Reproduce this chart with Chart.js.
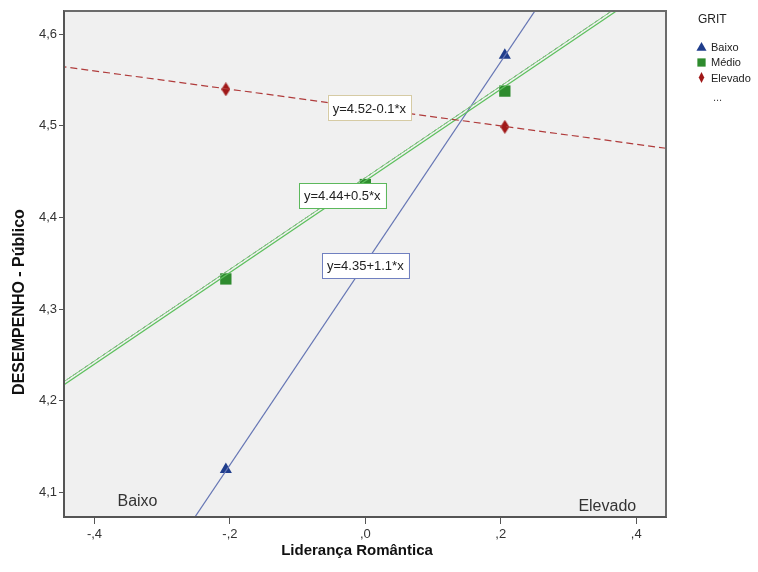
<!DOCTYPE html>
<html>
<head>
<meta charset="utf-8">
<script src="https://cdn.jsdelivr.net/npm/chart.js@4.4.1/dist/chart.umd.min.js"></script>
<style>
  html, body { margin: 0; padding: 0; background: #fff; }
  #wrap { position: relative; width: 758px; height: 572px; }
  #legend { position: absolute; left: 696px; top: 12px; font-family: "Liberation Sans", Arial, sans-serif; color: #222; }
  #legend .ttl { font-size: 12px; margin-left: 2px; margin-bottom: 13px; }
  #legend .item { font-size: 11px; height: 15.5px; display: flex; align-items: center; }
  #legend .item svg { width: 11px; height: 11px; margin-right: 4px; }
  #legend .more { font-size: 11px; margin-left: 17px; margin-top: 5px; color: #444; }
</style>
</head>
<body>
<div id="wrap">
  <canvas id="c" width="758" height="572"></canvas>
  <div id="legend">
    <div class="ttl">GRIT</div>
    <div class="item"><svg viewBox="0 0 12 12"><polygon points="6,1 11.5,10.5 0.5,10.5" fill="#1f3d8c"/></svg>Baixo</div>
    <div class="item"><svg viewBox="0 0 12 12"><rect x="1.5" y="1.5" width="9" height="9" fill="#2e8b2e"/></svg>Médio</div>
    <div class="item"><svg viewBox="0 0 12 12"><polygon points="6,0 9,6 6,12 3,6" fill="#a01818"/></svg>Elevado</div>
    <div class="more">...</div>
  </div>
</div>
<script>
// ---- data ----
const groups = ['Baixo', 'Médio', 'Elevado'];
const xLevels = [-0.206, 0, 0.206];
const baixoMeans = [4.125, 4.350, 4.577];
const medioMeans = [4.333, 4.436, 4.538];
const elevadoMeans = [4.540, 4.520, 4.499];
const lineX = [-0.5, 0.5];
const baixoFit = [3.800, 4.900];
const medioFit = [4.190, 4.690];
const medioFitDash = [4.1935, 4.6935];
const elevadoFit = [4.570, 4.470];
const equations = ['y=4.52-0.1*x', 'y=4.44+0.5*x', 'y=4.35+1.1*x'];
const xTicks = [-0.4, -0.2, 0, 0.2, 0.4];
const yTicks = [4.1, 4.2, 4.3, 4.4, 4.5, 4.6];
const cornerLabels = ['Baixo', 'Elevado'];
const xTitle = 'Liderança Romântica';
const yTitle = 'DESEMPENHO - Público';

const pts = (xs, ys) => xs.map((x, i) => ({x: x, y: ys[i]}));

// narrow diamond marker
const dia = document.createElement('canvas');
dia.width = 9; dia.height = 14;
(function(){ const g = dia.getContext('2d'); g.fillStyle = '#a01818'; g.beginPath();
  g.moveTo(4.5,0); g.lineTo(9,7); g.lineTo(4.5,14); g.lineTo(0,7); g.closePath(); g.fill(); })();

const FONT = '"Liberation Sans", Arial, sans-serif';

const decor = {
  id: 'decor',
  beforeDraw(chart) {
    const {ctx, chartArea: a} = chart;
    ctx.save();
    ctx.fillStyle = '#f0f0f0';
    ctx.fillRect(a.left, a.top, a.right - a.left, a.bottom - a.top);
    ctx.restore();
  },
  afterDatasetsDraw(chart) {
    const {ctx, chartArea: a, scales} = chart;
    const xs = scales.x, ys = scales.y;
    ctx.save();
    // equation boxes
    const boxes = [
      {t: equations[0], x: 0.006, y: 4.5196, c: '#d6cba4'},
      {t: equations[1], x: -0.034, y: 4.4236, c: '#5cb85c'},
      {t: equations[2], x: 0.0, y: 4.3473, c: '#7080c0'}
    ];
    ctx.font = '13px ' + FONT;
    ctx.textBaseline = 'middle';
    ctx.textAlign = 'center';
    boxes.forEach(b => {
      const px = xs.getPixelForValue(b.x), py = ys.getPixelForValue(b.y);
      const w = ctx.measureText(b.t).width + 10, h = 25;
      ctx.fillStyle = '#ffffff';
      ctx.fillRect(px - w / 2, py - h / 2, w, h);
      ctx.strokeStyle = b.c; ctx.lineWidth = 1;
      ctx.strokeRect(Math.round(px - w / 2) + 0.5, Math.round(py - h / 2) + 0.5, Math.round(w), h);
      ctx.fillStyle = '#222';
      ctx.fillText(b.t, px, py + 1);
    });
    // corner labels
    ctx.font = '16px ' + FONT;
    ctx.fillStyle = '#333';
    ctx.textAlign = 'left';
    ctx.fillText(cornerLabels[0], xs.getPixelForValue(-0.366), ys.getPixelForValue(4.090));
    ctx.textAlign = 'right';
    ctx.fillText(cornerLabels[1], xs.getPixelForValue(0.400), ys.getPixelForValue(4.0844));
    ctx.restore();
  },
  afterDraw(chart) {
    const {ctx, chartArea: a} = chart;
    ctx.save();
    ctx.strokeStyle = '#6b6b6b'; ctx.lineWidth = 2;
    ctx.beginPath();
    ctx.moveTo(a.left, a.top); ctx.lineTo(a.right, a.top); ctx.lineTo(a.right, a.bottom);
    ctx.stroke();
    ctx.strokeStyle = '#555'; ctx.lineWidth = 2;
    ctx.beginPath();
    ctx.moveTo(a.left, a.top); ctx.lineTo(a.left, a.bottom); ctx.lineTo(a.right, a.bottom);
    ctx.stroke();
    // axis titles
    ctx.fillStyle = '#111';
    ctx.font = 'bold 15px ' + FONT;
    ctx.textAlign = 'center'; ctx.textBaseline = 'middle';
    ctx.fillText(xTitle, 357, 551);
    ctx.translate(20, 302);
    ctx.rotate(-Math.PI / 2);
    ctx.font = 'bold 16px ' + FONT;
    ctx.fillText(yTitle, 0, 0);
    ctx.restore();
  }
};

new Chart(document.getElementById('c'), {
  type: 'scatter',
  data: {
    datasets: [
      {label: 'fitE', data: pts(lineX, elevadoFit), showLine: true, pointRadius: 0, borderColor: '#b03c3c', borderWidth: 1.2, borderDash: [7, 4]},
      {label: 'fitM2', data: pts(lineX, medioFitDash), showLine: true, pointRadius: 0, borderColor: '#7fcf7f', borderWidth: 1},
      {label: 'fitM2d', data: pts(lineX, medioFitDash), showLine: true, pointRadius: 0, borderColor: '#5a6a5a', borderWidth: 1, borderDash: [4, 3]},
      {label: 'fitM', data: pts(lineX, medioFit), showLine: true, pointRadius: 0, borderColor: '#5cc05c', borderWidth: 1.2},
      {label: 'fitB', data: pts(lineX, baixoFit), showLine: true, pointRadius: 0, borderColor: '#6676b4', borderWidth: 1.2},
      {label: groups[0], data: pts(xLevels, baixoMeans), pointStyle: 'triangle', pointRadius: 7, backgroundColor: '#1f3d8c', borderColor: '#1f3d8c', borderWidth: 0},
      {label: groups[1], data: pts(xLevels, medioMeans), pointStyle: 'rect', pointRadius: 8, backgroundColor: '#2e8b2e', borderColor: '#2e8b2e', borderWidth: 0},
      {label: groups[2], data: pts(xLevels, elevadoMeans), pointStyle: dia, pointRadius: 6}
    ]
  },
  options: {
    responsive: false,
    animation: false,
    events: [],
    layout: {padding: {left: 0, top: 11, right: 92, bottom: 0}, autoPadding: false},
    plugins: {legend: {display: false}, tooltip: {enabled: false}},
    scales: {
      x: {
        type: 'linear', min: -0.445, max: 0.444,
        afterFit(s) { s.height = 55; },
        afterBuildTicks(s) { s.ticks = xTicks.map(v => ({value: v})); },
        ticks: {
          font: {family: FONT, size: 13}, color: '#333', padding: 3,
          callback: v => (v < 0 ? '-' : '') + ',' + String(Math.round(Math.abs(v) * 10))
        },
        grid: {display: true, drawOnChartArea: false, drawTicks: true, tickLength: 7, color: '#555', lineWidth: 1},
        border: {display: true, color: '#555', width: 2}
      },
      y: {
        type: 'linear', min: 4.0732, max: 4.6254,
        afterFit(s) { s.width = 64; },
        afterBuildTicks(s) { s.ticks = yTicks.map(v => ({value: v})); },
        ticks: {
          font: {family: FONT, size: 13}, color: '#333', padding: 2,
          callback: v => v.toFixed(1).replace('.', ',')
        },
        grid: {display: true, drawOnChartArea: false, drawTicks: true, tickLength: 5, color: '#555', lineWidth: 1},
        border: {display: true, color: '#555', width: 2}
      }
    }
  },
  plugins: [decor]
});
</script>
</body>
</html>
